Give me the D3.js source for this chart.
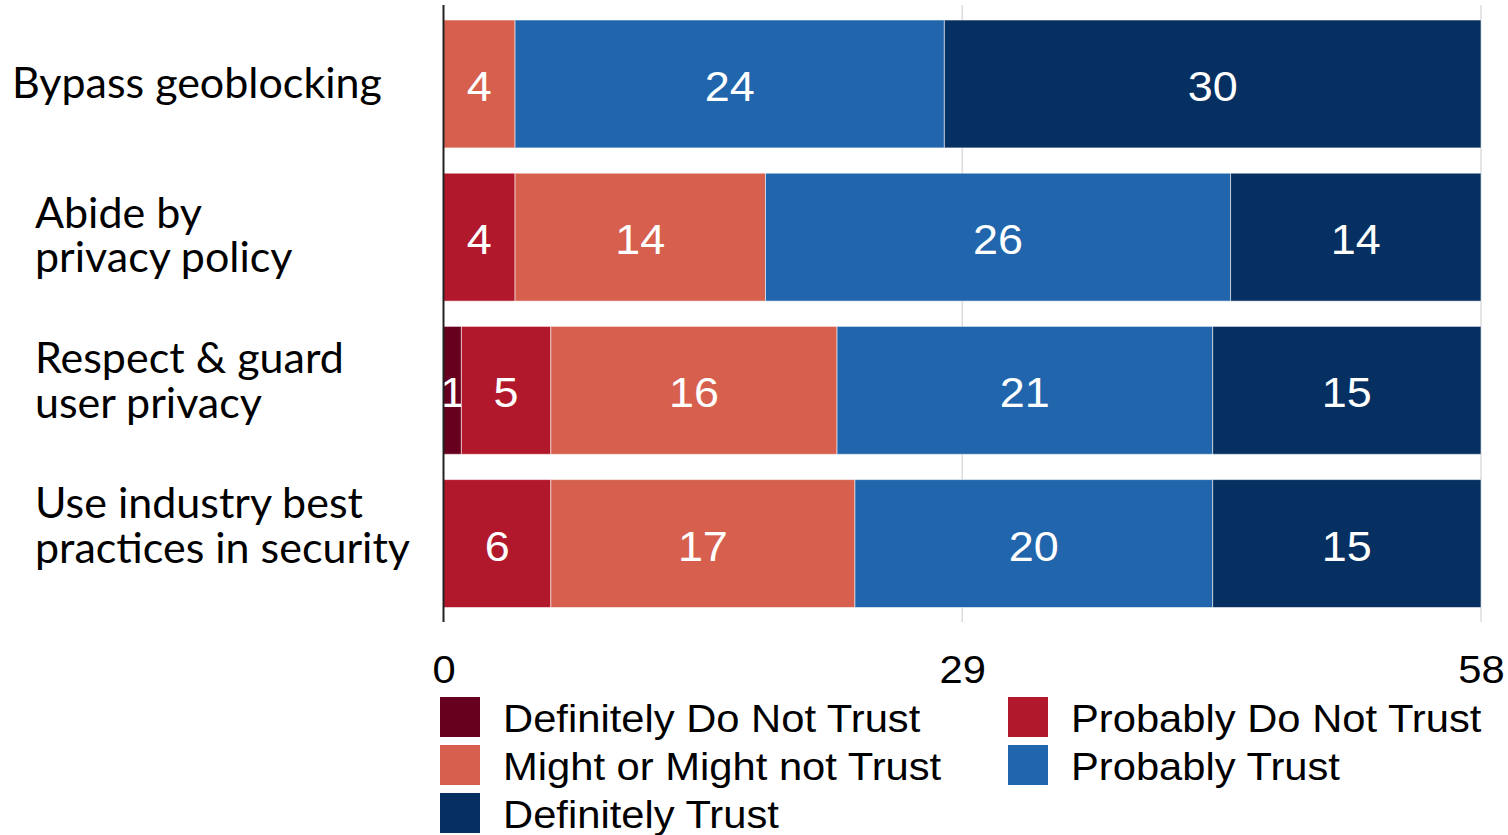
<!DOCTYPE html>
<html>
<head>
<meta charset="utf-8">
<script src="https://cdn.jsdelivr.net/npm/d3@7"></script>
<style>
  html, body { margin: 0; padding: 0; background: #fff; }
  svg { display: block; }
</style>
</head>
<body>
<svg id="chart" width="1508" height="835"></svg>
<script>
// Survey: how much respondents trust providers on each statement (counts, n = 58)
const categories = [
  "Bypass geoblocking",
  "Abide by privacy policy",
  "Respect & guard user privacy",
  "Use industry best practices in security"
];
// Line breaks used for the category labels
const categoryLines = [
  ["Bypass geoblocking"],
  ["Abide by", "privacy policy"],
  ["Respect & guard", "user privacy"],
  ["Use industry best", "practices in security"]
];
const seriesNames = [
  "Definitely Do Not Trust",
  "Probably Do Not Trust",
  "Might or Might not Trust",
  "Probably Trust",
  "Definitely Trust"
];
const definitelyDoNotTrust = [0, 0, 1, 0];
const probablyDoNotTrust   = [0, 4, 5, 6];
const mightOrMightNotTrust = [4, 14, 16, 17];
const probablyTrust        = [24, 26, 21, 20];
const definitelyTrust      = [30, 14, 15, 15];
const tickValues = [0, 29, 58];
const seriesColors = ["#67001f", "#b2182b", "#d6604d", "#2166ac", "#053061"];

const seriesValues = [definitelyDoNotTrust, probablyDoNotTrust, mightOrMightNotTrust, probablyTrust, definitelyTrust];
const rows = categories.map((c, i) => {
  const r = { category: c };
  seriesNames.forEach((s, k) => { r[s] = seriesValues[k][i]; });
  return r;
});

const svg = d3.select("#chart");
const plot = { left: 443.5, right: 1481, top: 5, bottom: 622 };
const sansFont = "'Liberation Sans', Arial, sans-serif";
const stretch = 1.07; // slightly wide rendering of the sans-serif text

const x = d3.scaleLinear().domain([0, 58]).range([plot.left, plot.right]);
const y = d3.scaleBand().domain(categories).range([20, 607.5])
  .paddingInner(0.165).paddingOuter(0);
const color = d3.scaleOrdinal().domain(seriesNames).range(seriesColors);

const stacked = d3.stack().keys(seriesNames)(rows);

// Grid lines at the tick positions
svg.append("g")
  .selectAll("line")
  .data(tickValues.filter(v => v !== 0))
  .join("line")
  .attr("x1", d => x(d)).attr("x2", d => x(d))
  .attr("y1", plot.top).attr("y2", plot.bottom)
  .attr("stroke", "#dcdcdc").attr("stroke-width", 1.5);

// Stacked bars
const layer = svg.append("g")
  .selectAll("g")
  .data(stacked)
  .join("g")
  .attr("fill", d => color(d.key));

layer.selectAll("rect")
  .data(d => d.map(p => ({ p, key: d.key })).filter(d => d.p[1] - d.p[0] > 0))
  .join("rect")
  .attr("x", d => x(d.p[0]))
  .attr("y", d => y(d.p.data.category))
  .attr("width", d => x(d.p[1]) - x(d.p[0]))
  .attr("height", y.bandwidth())
  .attr("stroke", "#ffffff")
  .attr("stroke-opacity", 0.55)
  .attr("stroke-width", 1);

// Value labels inside segments
layer.selectAll("text")
  .data(d => d.map(p => ({ p, key: d.key })).filter(d => d.p[1] - d.p[0] > 0))
  .join("text")
  .attr("transform", d => {
    const cx = (x(d.p[0]) + x(d.p[1])) / 2;
    const cy = y(d.p.data.category) + y.bandwidth() / 2 + 17;
    return `translate(${cx},${cy}) scale(${stretch},1)`;
  })
  .attr("text-anchor", "middle")
  .attr("fill", "#ffffff")
  .style("font-family", sansFont)
  .style("font-size", "42px")
  .text(d => d.p[1] - d.p[0]);

// Bottom axis: tick labels only
const xAxis = d3.axisBottom(x).tickValues(tickValues).tickSize(0).tickPadding(0);
const axisG = svg.append("g")
  .attr("transform", `translate(0, ${plot.bottom})`)
  .call(xAxis);
axisG.select(".domain").remove();
axisG.selectAll("text")
  .attr("y", null)
  .attr("dy", null)
  .attr("transform", `translate(0, 61) scale(${stretch},1)`)
  .attr("fill", "#000")
  .style("font-family", sansFont)
  .style("font-size", "39px");

// Left axis line
svg.append("line")
  .attr("x1", plot.left).attr("x2", plot.left)
  .attr("y1", plot.top).attr("y2", plot.bottom)
  .attr("stroke", "#222").attr("stroke-width", 2);

// Category labels
const labelX = [12, 35, 35, 35];
const labelNudge = [0, -1, -9, -17];
const labelG = svg.append("g")
  .style("font-family", "Lato, 'Noto Sans', sans-serif")
  .style("font-size", "43px")
  .attr("fill", "#000");
categoryLines.forEach((lines, i) => {
  const cy = y(categories[i]) + y.bandwidth() / 2 + labelNudge[i];
  const lh = 44.5;
  const first = cy - (lines.length - 1) * lh / 2 + 14;
  const t = labelG.append("text").attr("x", labelX[i]).attr("y", first);
  lines.forEach((ln, j) => {
    t.append("tspan").attr("x", labelX[i]).attr("y", first + j * lh).text(ln);
  });
});

// Legend: two columns, filled row by row
const legendOrigin = { x: 440, y: 697 };
const colGap = 568, rowGap = 48, sw = 40;
const legend = svg.append("g")
  .style("font-family", sansFont)
  .style("font-size", "39px");
const item = legend.selectAll("g")
  .data(seriesNames)
  .join("g")
  .attr("transform", (d, i) => `translate(${legendOrigin.x + (i % 2) * colGap}, ${legendOrigin.y + Math.floor(i / 2) * rowGap})`);
item.append("rect")
  .attr("width", sw).attr("height", sw)
  .attr("fill", d => color(d));
item.append("text")
  .attr("transform", `translate(63, 35) scale(${stretch},1)`)
  .attr("fill", "#000")
  .text(d => d);
</script>
</body>
</html>
